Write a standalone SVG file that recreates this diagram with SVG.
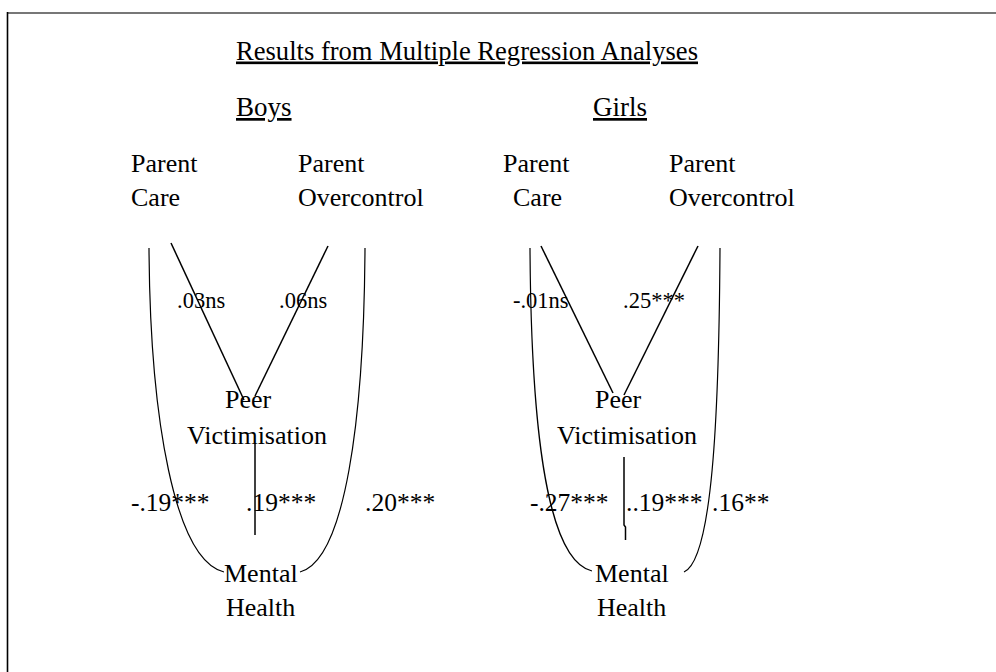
<svg xmlns="http://www.w3.org/2000/svg" width="996" height="672" viewBox="0 0 996 672">
<style>
text{font-family:'Liberation Serif','DejaVu Serif',serif;fill:#000}
.n{font-size:26px}
.h{font-size:27px;text-decoration:underline}
.t{font-size:26.5px;text-decoration:underline}
.ls{font-size:22.5px}
.lb{font-size:25.5px}
.c{fill:none;stroke:#000;stroke-width:1.5}
.u{fill:none;stroke:#000;stroke-width:1.2}
</style>
<rect width="996" height="672" fill="#fff"/>
<line x1="7" y1="13" x2="996" y2="13" stroke="#777" stroke-width="2"/>
<line x1="7.5" y1="12" x2="7.5" y2="672" stroke="#000" stroke-width="1.6"/>
<g id="title"><text class="t" x="236" y="59.5" textLength="462" lengthAdjust="spacingAndGlyphs">Results from Multiple Regression Analyses</text></g>
<g id="boys-heading"><text class="h" x="236" y="116">Boys</text></g>
<g id="girls-heading"><text class="h" x="593" y="116">Girls</text></g>
<g id="connectors">
<path class="c" d="M171,243 L244,400"/>
<path class="c" d="M328,246 L255,396"/>
<path class="c" d="M255,443 L255,535"/>
<path class="u" d="M149,248 C150,420 175,560 224,572"/>
<path class="u" d="M365,248 C364,420 345,560 300,572"/>
<path class="c" d="M541,246 L613,393"/>
<path class="c" d="M698,246 L624,395"/>
<path class="c" d="M624,457 L624,525 L625.5,527 L625.5,540"/>
<path class="u" d="M530,248 C531,420 545,560 592,571"/>
<path class="u" d="M720,248 C719,420 712,560 684,572"/>
</g>
<g id="edge-labels">
<text class="ls" x="177" y="308">.03ns</text>
<text class="ls" x="279" y="308">.06ns</text>
<text class="lb" x="131" y="511">-.19***</text>
<text class="lb" x="246" y="511">.19***</text>
<text class="lb" x="365" y="511">.20***</text>
<text class="ls" x="513" y="308">-.01ns</text>
<text class="ls" x="623" y="308">.25***</text>
<text class="lb" x="530" y="511">-.27***</text>
<text class="lb" x="626" y="511">..19***</text>
<text class="lb" x="712" y="511">.16**</text>
</g>
<g id="boys-care"><text class="n" x="131" y="172">Parent</text><text class="n" x="131" y="206">Care</text></g>
<g id="boys-overcontrol"><text class="n" x="298" y="172">Parent</text><text class="n" x="298" y="206">Overcontrol</text></g>
<g id="boys-peer"><text class="n" x="225" y="408">Peer</text><text class="n" x="187" y="444">Victimisation</text></g>
<g id="boys-mental"><text class="n" x="224" y="582">Mental</text><text class="n" x="226" y="616">Health</text></g>
<g id="girls-care"><text class="n" x="503" y="172">Parent</text><text class="n" x="513" y="206">Care</text></g>
<g id="girls-overcontrol"><text class="n" x="669" y="172">Parent</text><text class="n" x="669" y="206">Overcontrol</text></g>
<g id="girls-peer"><text class="n" x="595" y="408">Peer</text><text class="n" x="557" y="444">Victimisation</text></g>
<g id="girls-mental"><text class="n" x="595" y="582">Mental</text><text class="n" x="597" y="616">Health</text></g>
</svg>
